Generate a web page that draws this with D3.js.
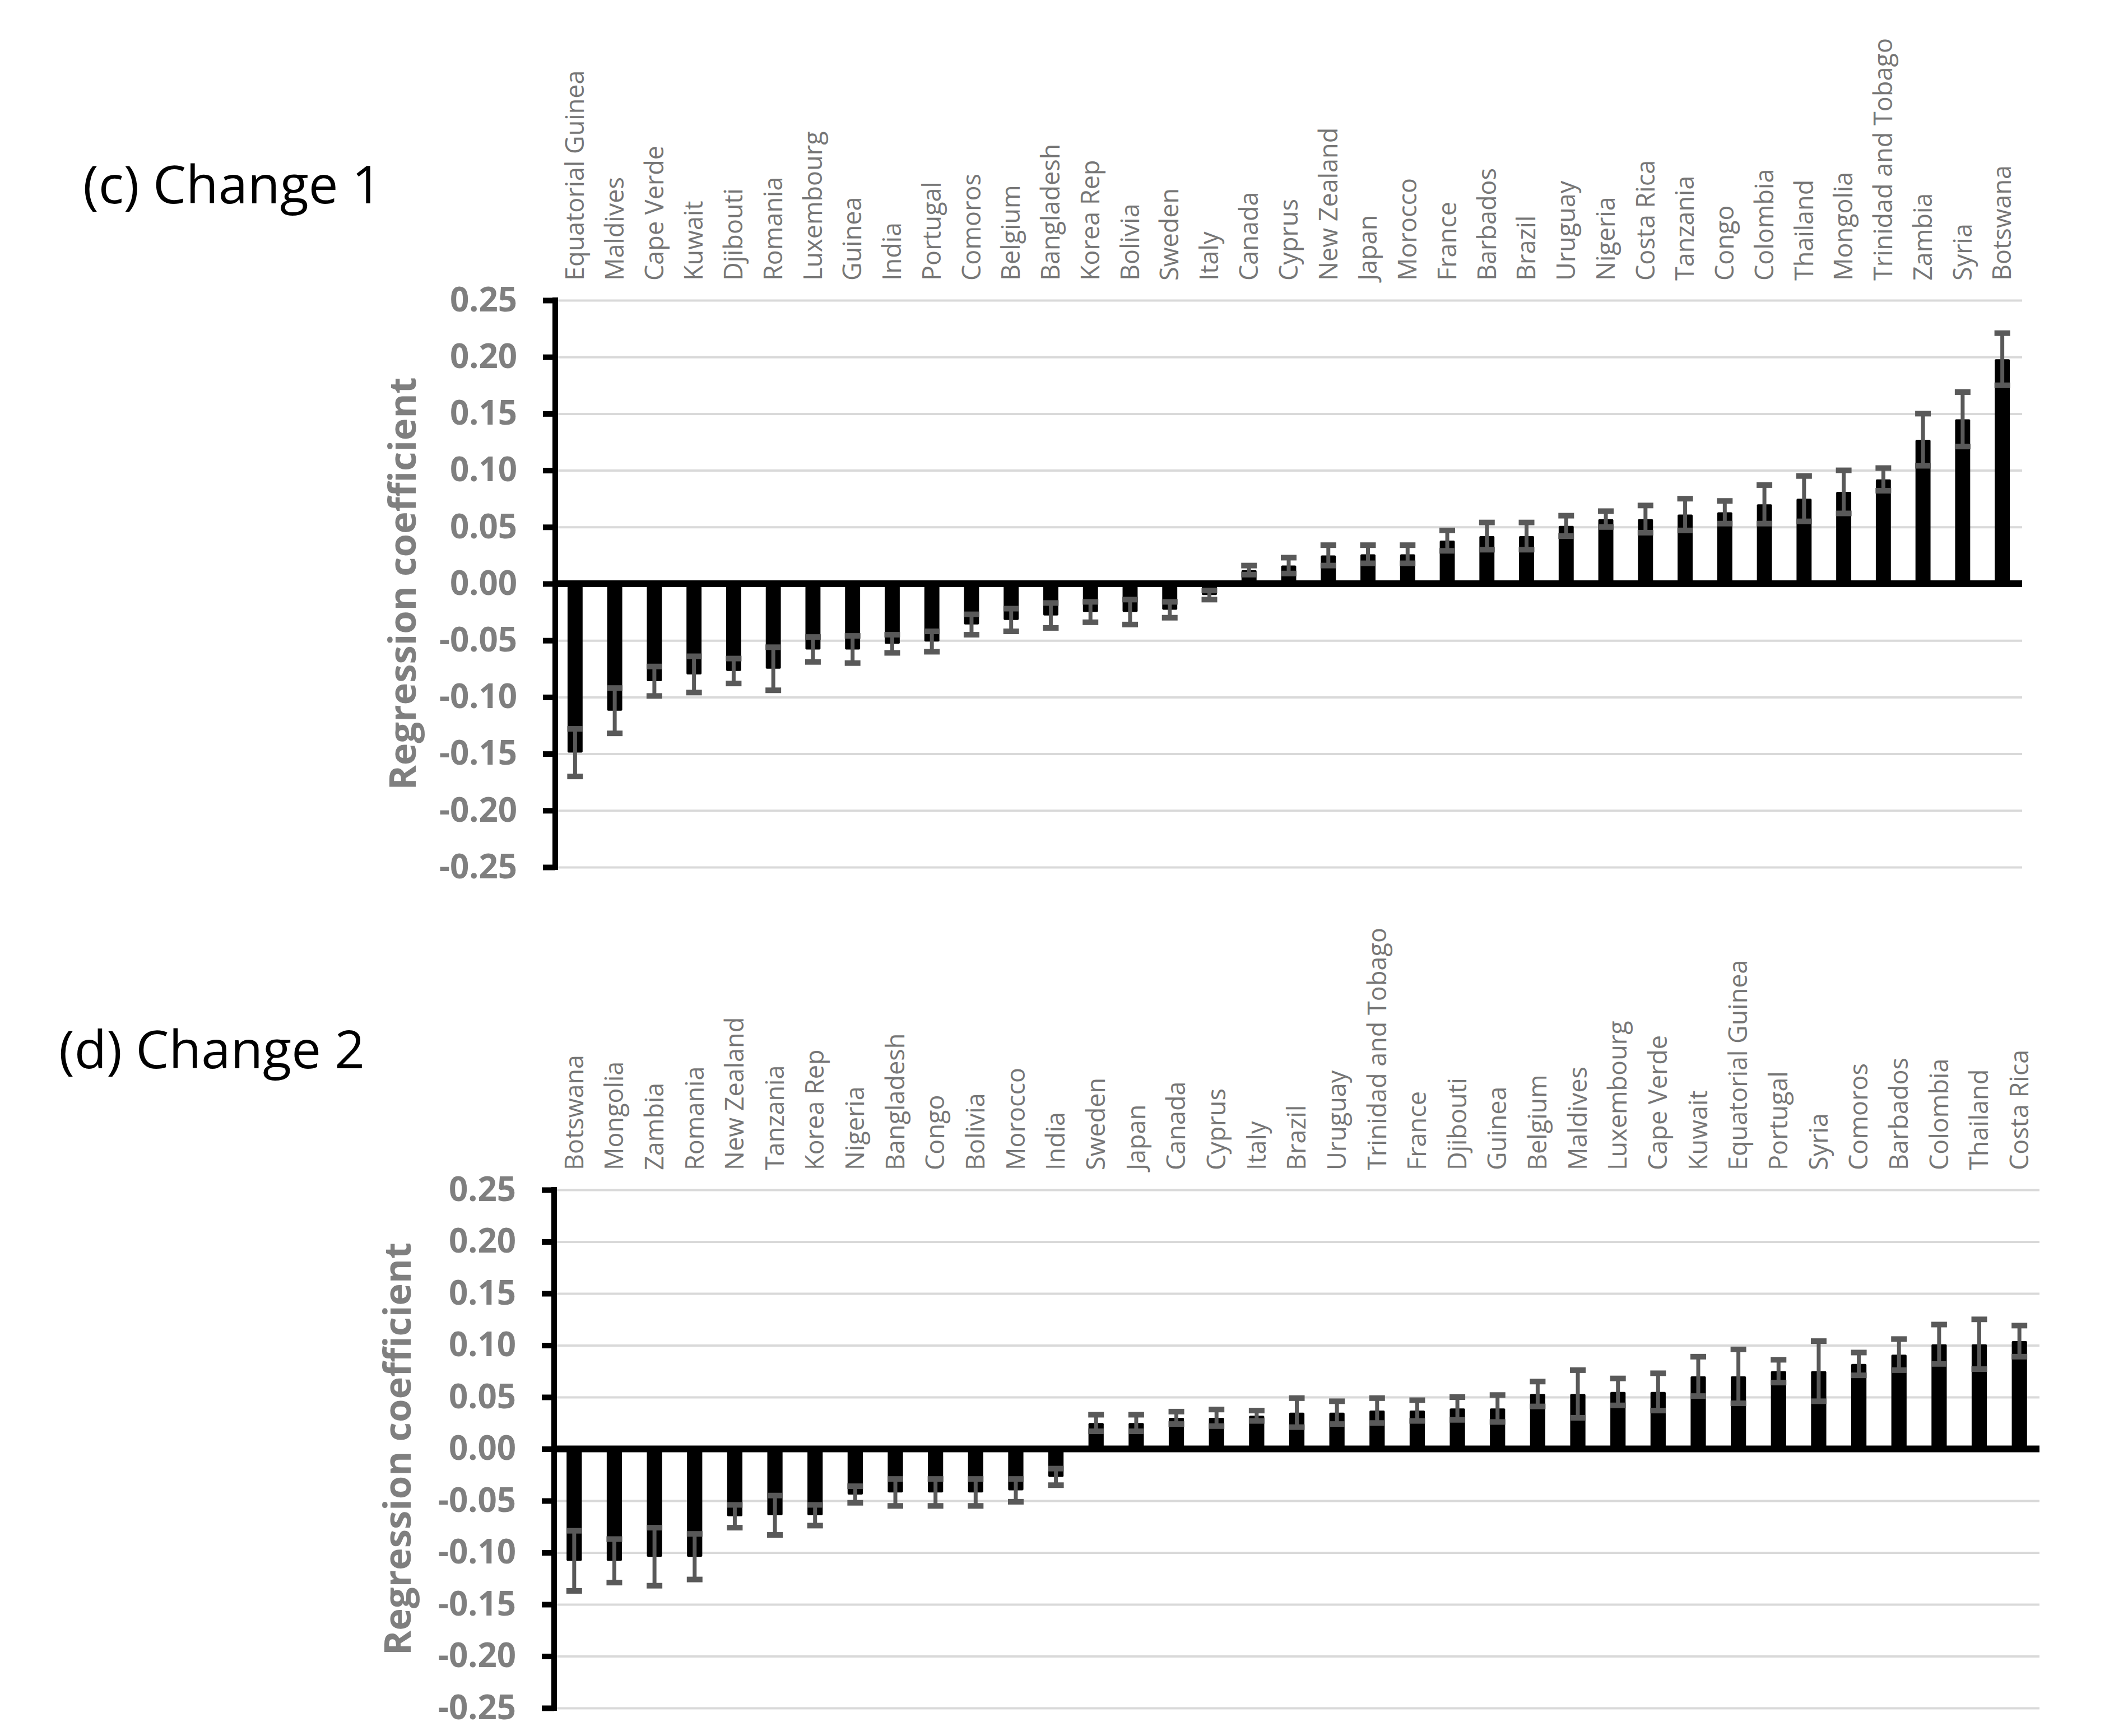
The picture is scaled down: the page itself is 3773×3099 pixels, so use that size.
<!DOCTYPE html>
<html>
<head>
<meta charset="utf-8">
<script src="https://cdn.jsdelivr.net/npm/d3@7"></script>
<style>
  body { margin: 0; background: #fff; }
  svg { display: block; }
</style>
</head>
<body>
<svg id="chart" width="3773" height="3099"></svg>
<script>
// panel (c) Change 1
const countries1 = ["Equatorial Guinea", "Maldives", "Cape Verde", "Kuwait", "Djibouti", "Romania", "Luxembourg", "Guinea", "India", "Portugal", "Comoros", "Belgium", "Bangladesh", "Korea Rep", "Bolivia", "Sweden", "Italy", "Canada", "Cyprus", "New Zealand", "Japan", "Morocco", "France", "Barbados", "Brazil", "Uruguay", "Nigeria", "Costa Rica", "Tanzania", "Congo", "Colombia", "Thailand", "Mongolia", "Trinidad and Tobago", "Zambia", "Syria", "Botswana"];
const coef1 = [-0.149, -0.112, -0.086, -0.080, -0.077, -0.075, -0.058, -0.058, -0.053, -0.051, -0.036, -0.032, -0.028, -0.025, -0.025, -0.023, -0.010, 0.012, 0.016, 0.025, 0.026, 0.026, 0.038, 0.042, 0.042, 0.051, 0.057, 0.057, 0.061, 0.063, 0.070, 0.075, 0.081, 0.092, 0.127, 0.145, 0.198];
const err1 = [0.021, 0.020, 0.013, 0.016, 0.011, 0.019, 0.011, 0.012, 0.008, 0.009, 0.009, 0.010, 0.011, 0.009, 0.011, 0.007, 0.004, 0.004, 0.007, 0.009, 0.008, 0.008, 0.009, 0.012, 0.012, 0.009, 0.007, 0.012, 0.014, 0.010, 0.017, 0.020, 0.019, 0.010, 0.023, 0.024, 0.023];

// panel (d) Change 2
const countries2 = ["Botswana", "Mongolia", "Zambia", "Romania", "New Zealand", "Tanzania", "Korea Rep", "Nigeria", "Bangladesh", "Congo", "Bolivia", "Morocco", "India", "Sweden", "Japan", "Canada", "Cyprus", "Italy", "Brazil", "Uruguay", "Trinidad and Tobago", "France", "Djibouti", "Guinea", "Belgium", "Maldives", "Luxembourg", "Cape Verde", "Kuwait", "Equatorial Guinea", "Portugal", "Syria", "Comoros", "Barbados", "Colombia", "Thailand", "Costa Rica"];
const coef2 = [-0.108, -0.108, -0.104, -0.104, -0.065, -0.064, -0.064, -0.044, -0.042, -0.042, -0.042, -0.040, -0.027, 0.025, 0.025, 0.030, 0.030, 0.032, 0.035, 0.035, 0.037, 0.037, 0.039, 0.039, 0.053, 0.053, 0.055, 0.055, 0.070, 0.070, 0.075, 0.075, 0.082, 0.091, 0.101, 0.101, 0.104];
const err2 = [0.029, 0.021, 0.028, 0.022, 0.011, 0.019, 0.010, 0.008, 0.013, 0.013, 0.013, 0.011, 0.008, 0.008, 0.008, 0.006, 0.008, 0.005, 0.014, 0.011, 0.012, 0.010, 0.011, 0.013, 0.012, 0.023, 0.013, 0.018, 0.019, 0.026, 0.011, 0.029, 0.011, 0.015, 0.019, 0.024, 0.015];

const yTicks = [0.25, 0.20, 0.15, 0.10, 0.05, 0.00, -0.05, -0.10, -0.15, -0.20, -0.25];
const yLabel = "Regression coefficient";

const svg = d3.select("#chart");
svg.append("rect").attr("width", 3773).attr("height", 3099).attr("fill", "#fff");

const FONT = "'Open Sans', 'Noto Sans', sans-serif";

function drawPanel(p) {
  const g = svg.append("g");

  const x = d3.scaleBand()
    .domain(p.countries)
    .range([p.left, p.right])
    .paddingInner(0.62)
    .paddingOuter(0.31);

  const y = d3.scaleLinear()
    .domain([-0.25, 0.25])
    .range([p.bottom, p.top]);

  // title
  g.append("text")
    .attr("x", p.titleX)
    .attr("y", p.titleY)
    .attr("font-family", FONT)
    .attr("font-size", 94)
    .attr("fill", "#000")
    .text(p.title);

  // gridlines
  const grid = g.append("g")
    .attr("transform", `translate(${p.left},0)`)
    .call(d3.axisLeft(y).tickValues(yTicks).tickSize(-(p.right - p.left)).tickFormat(""));
  grid.select(".domain").remove();
  grid.selectAll("line").attr("stroke", "#d9d9d9").attr("stroke-width", 4);

  const rows = p.countries.map((c, i) => ({ c, v: p.coef[i], e: p.err[i] }));

  // bars
  g.append("g").selectAll("rect")
    .data(rows)
    .enter()
    .append("rect")
    .attr("x", d => x(d.c))
    .attr("width", x.bandwidth())
    .attr("y", d => y(Math.max(0, d.v)))
    .attr("height", d => Math.abs(y(d.v) - y(0)))
    .attr("rx", 2)
    .attr("fill", "#000");

  // error bars
  const eb = g.append("g").selectAll("g")
    .data(rows)
    .enter()
    .append("g")
    .attr("transform", d => `translate(${x(d.c) + x.bandwidth() / 2},0)`);
  eb.append("line")
    .attr("y1", d => y(d.v + d.e))
    .attr("y2", d => y(d.v - d.e))
    .attr("stroke", "#595959")
    .attr("stroke-width", 7);
  eb.selectAll(".cap")
    .data(d => [d.v + d.e, d.v - d.e])
    .enter()
    .append("line")
    .attr("class", "cap")
    .attr("x1", -14)
    .attr("x2", 14)
    .attr("y1", d => y(d))
    .attr("y2", d => y(d))
    .attr("stroke", "#595959")
    .attr("stroke-width", 10);

  // zero line
  g.append("line")
    .attr("x1", p.left)
    .attr("x2", p.right)
    .attr("y1", y(0))
    .attr("y2", y(0))
    .attr("stroke", "#000")
    .attr("stroke-width", 12);

  // y axis
  const ax = g.append("g")
    .attr("transform", `translate(${p.left},0)`)
    .call(d3.axisLeft(y)
      .tickValues(yTicks)
      .tickSize(22)
      .tickPadding(46)
      .tickFormat(d => d.toFixed(2)));
  ax.select(".domain")
    .attr("d", `M0,${p.top - 5}V${p.bottom + 5}`)
    .attr("stroke", "#000")
    .attr("stroke-width", 10)
    .attr("fill", "none");
  ax.selectAll(".tick line").attr("stroke", "#000").attr("stroke-width", 10);
  ax.selectAll(".tick text")
    .attr("font-family", FONT)
    .attr("font-weight", "bold")
    .attr("font-size", 60)
    .attr("fill", "#7f7f7f");

  // y axis title
  g.append("text")
    .attr("transform", `translate(${p.yLabelX},${(p.top + p.bottom) / 2}) rotate(-90)`)
    .attr("text-anchor", "middle")
    .attr("dy", "0.35em")
    .attr("font-family", FONT)
    .attr("font-weight", "bold")
    .attr("font-size", 67)
    .attr("fill", "#7f7f7f")
    .text(yLabel);

  // category labels above the plot
  g.append("g").selectAll("text")
    .data(p.countries)
    .enter()
    .append("text")
    .attr("transform", d => `translate(${x(d) + x.bandwidth() / 2},${p.top - 35}) rotate(-90)`)
    .attr("dy", "0.35em")
    .attr("font-family", FONT)
    .attr("font-size", 45)
    .attr("fill", "#767676")
    .text(d => d);
}

drawPanel({
  title: "(c) Change 1", titleX: 148, titleY: 363,
  countries: countries1, coef: coef1, err: err1,
  left: 991, right: 3609, top: 536, bottom: 1548, yLabelX: 719
});

drawPanel({
  title: "(d) Change 2", titleX: 105, titleY: 1907,
  countries: countries2, coef: coef2, err: err2,
  left: 989, right: 3640, top: 2124, bottom: 3049, yLabelX: 710
});
</script>
</body>
</html>
